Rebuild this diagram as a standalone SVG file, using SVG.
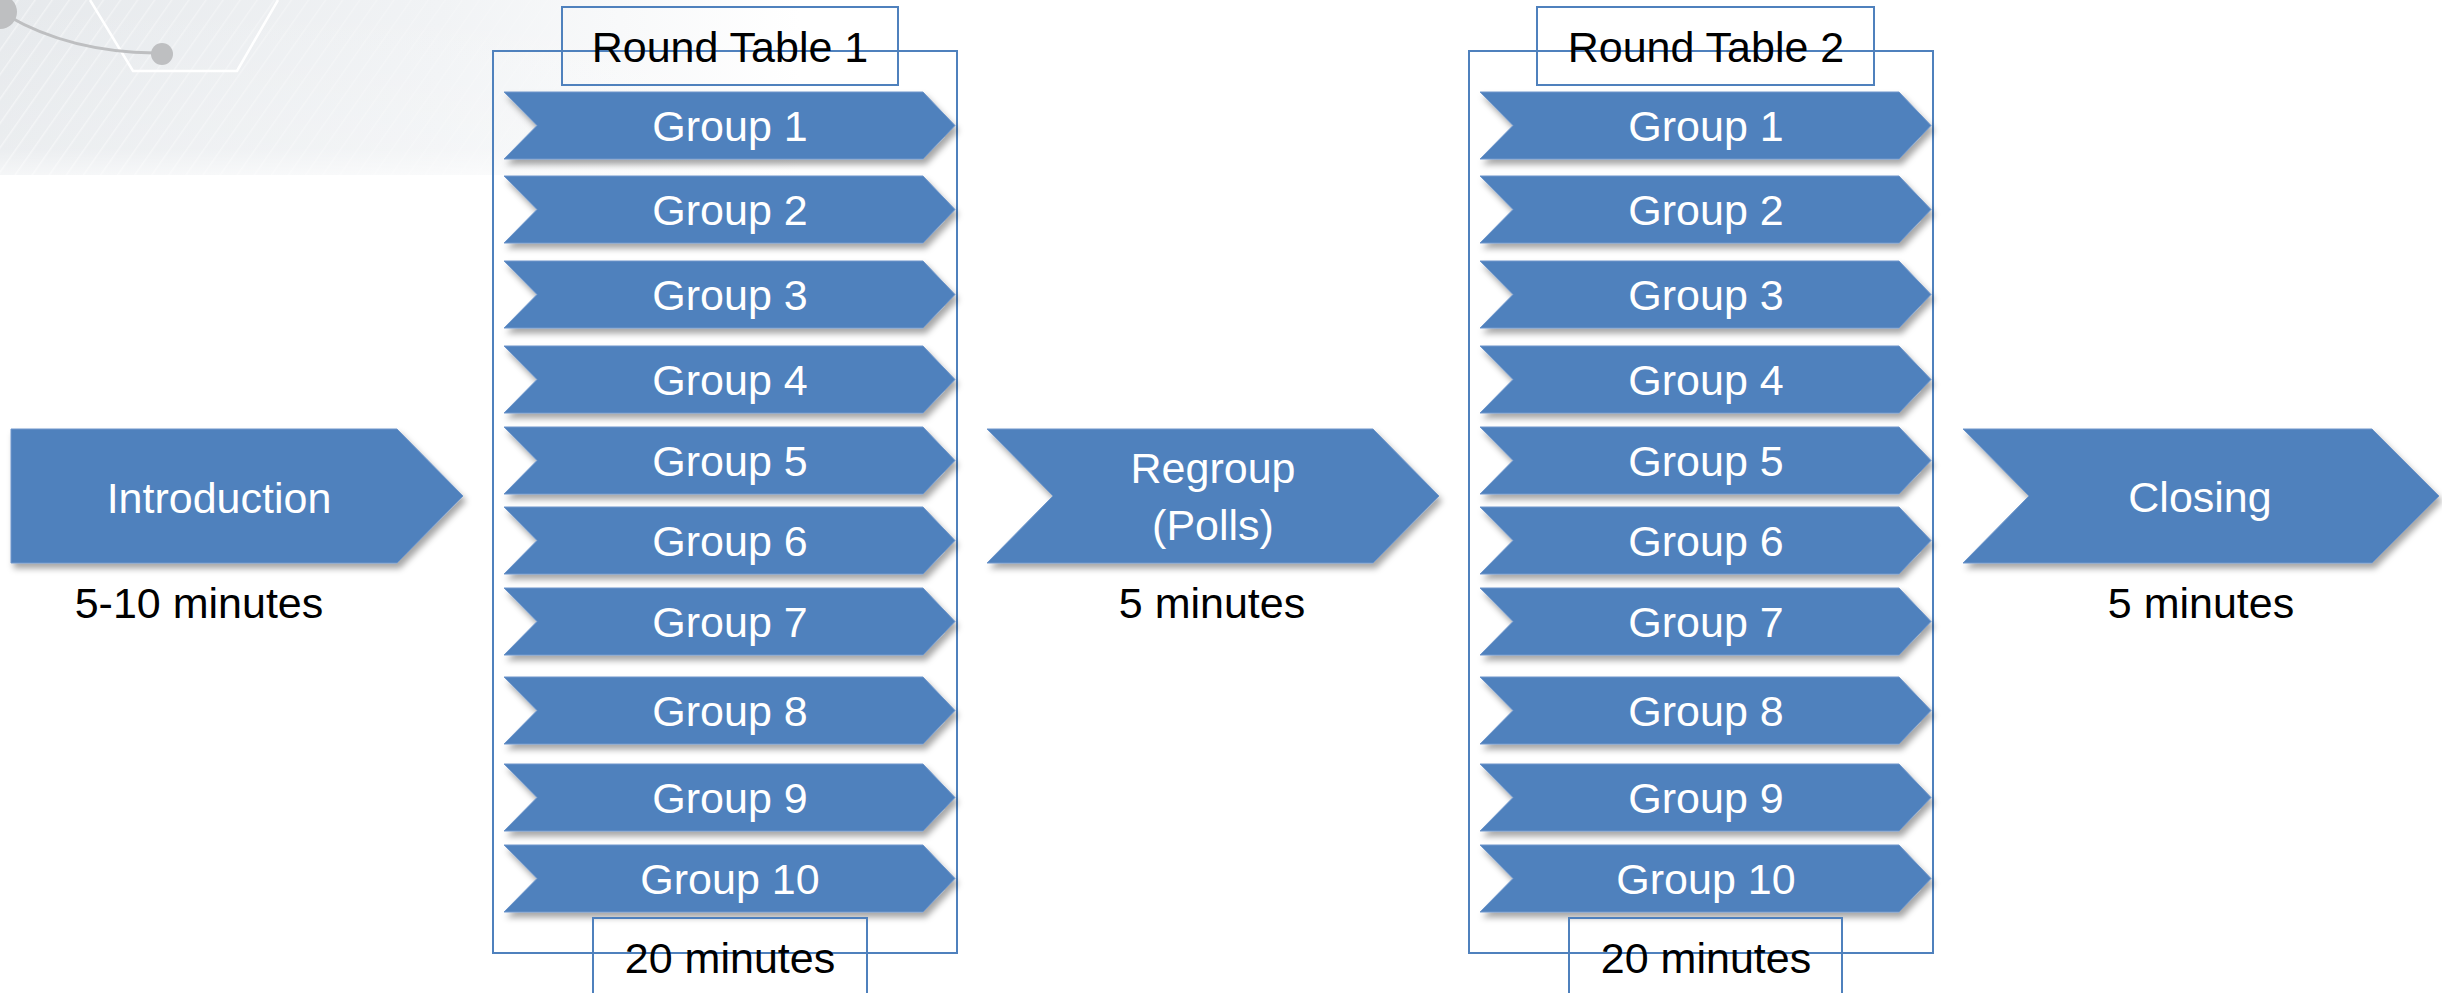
<svg xmlns="http://www.w3.org/2000/svg" width="2442" height="993" viewBox="0 0 2442 993">
  <defs>
    <style>
      .chev { fill: #4F81BD; stroke: #6E96CB; stroke-width: 1; filter: url(#sh); }
      .wt { fill: #FFFFFF; font-family: "Liberation Sans", Arial, sans-serif; font-size: 43px; text-anchor: middle; }
      .bt { fill: #000000; font-family: "Liberation Sans", Arial, sans-serif; font-size: 43px; text-anchor: middle; }
      .frame { fill: none; stroke: #4F81BD; stroke-width: 2; }
    </style>
    <filter id="sh" x="-10%" y="-20%" width="120%" height="150%">
      <feDropShadow dx="3" dy="5" stdDeviation="3" flood-color="#000000" flood-opacity="0.35"/>
    </filter>
    <linearGradient id="bgfade" x1="0" y1="0" x2="1" y2="0">
      <stop offset="0" stop-color="#E6E9EC"/>
      <stop offset="0.55" stop-color="#F1F3F5"/>
      <stop offset="1" stop-color="#FFFFFF"/>
    </linearGradient>
    <linearGradient id="bgfadeV" x1="0" y1="0" x2="0" y2="1">
      <stop offset="0" stop-color="#FFFFFF" stop-opacity="0"/>
      <stop offset="0.85" stop-color="#FFFFFF" stop-opacity="0.2"/>
      <stop offset="1" stop-color="#FFFFFF" stop-opacity="0.6"/>
    </linearGradient>
    <pattern id="stripes" width="14" height="14" patternUnits="userSpaceOnUse" patternTransform="rotate(35)">
      <line x1="0" y1="0" x2="0" y2="14" stroke="#FFFFFF" stroke-width="3" stroke-opacity="0.45"/>
    </pattern>
    <linearGradient id="stripefade" x1="0" y1="0" x2="1" y2="0">
      <stop offset="0" stop-color="#FFFFFF" stop-opacity="1"/>
      <stop offset="1" stop-color="#FFFFFF" stop-opacity="0"/>
    </linearGradient>
    <mask id="smask">
      <rect x="0" y="0" width="800" height="175" fill="url(#stripefade)"/>
    </mask>
  </defs>

  <rect x="0" y="0" width="2442" height="993" fill="#FFFFFF"/>

  <g id="background">
    <rect x="0" y="0" width="800" height="175" fill="url(#bgfade)"/>
    <rect x="0" y="0" width="800" height="175" fill="url(#stripes)" mask="url(#smask)"/>
    <rect x="0" y="0" width="800" height="175" fill="url(#bgfadeV)"/>
    <polyline points="90,0 133,71 237,71 278,0" fill="none" stroke="#FFFFFF" stroke-width="2.5"/>
    <path d="M 8 16 Q 70 52 155 53" fill="none" stroke="#BEBFC1" stroke-width="3"/>
    <circle cx="0" cy="12" r="17" fill="#BEBFC1"/>
    <circle cx="162" cy="54" r="11" fill="#BEBFC1"/>
  </g>

  <g id="connectors"></g>

  <g id="introduction">
    <polygon class="chev" points="11,429 397,429 463,496 397,563 11,563"/>
    <text class="wt" x="219" y="513">Introduction</text>
    <text class="bt" x="199" y="618">5-10 minutes</text>
  </g>

  <g id="round-table-1">
    <rect class="frame" x="493" y="51" width="464" height="902"/>
    <g id="rt1-groups">
      <g id="rt1-g1"><polygon class="chev" points="504,92 923,92 955,125.5 923,159 504,159 537,125.5"/><text class="wt" x="730" y="141">Group 1</text></g>
      <g id="rt1-g2"><polygon class="chev" points="504,176 923,176 955,209.5 923,243 504,243 537,209.5"/><text class="wt" x="730" y="225">Group 2</text></g>
      <g id="rt1-g3"><polygon class="chev" points="504,261 923,261 955,294.5 923,328 504,328 537,294.5"/><text class="wt" x="730" y="310">Group 3</text></g>
      <g id="rt1-g4"><polygon class="chev" points="504,346 923,346 955,379.5 923,413 504,413 537,379.5"/><text class="wt" x="730" y="395">Group 4</text></g>
      <g id="rt1-g5"><polygon class="chev" points="504,427 923,427 955,460.5 923,494 504,494 537,460.5"/><text class="wt" x="730" y="476">Group 5</text></g>
      <g id="rt1-g6"><polygon class="chev" points="504,507 923,507 955,540.5 923,574 504,574 537,540.5"/><text class="wt" x="730" y="556">Group 6</text></g>
      <g id="rt1-g7"><polygon class="chev" points="504,588 923,588 955,621.5 923,655 504,655 537,621.5"/><text class="wt" x="730" y="637">Group 7</text></g>
      <g id="rt1-g8"><polygon class="chev" points="504,677 923,677 955,710.5 923,744 504,744 537,710.5"/><text class="wt" x="730" y="726">Group 8</text></g>
      <g id="rt1-g9"><polygon class="chev" points="504,764 923,764 955,797.5 923,831 504,831 537,797.5"/><text class="wt" x="730" y="813">Group 9</text></g>
      <g id="rt1-g10"><polygon class="chev" points="504,845 923,845 955,878.5 923,912 504,912 537,878.5"/><text class="wt" x="730" y="894">Group 10</text></g>
    </g>
    <g id="rt1-title">
      <rect class="frame" x="562" y="7" width="336" height="78"/>
      <text class="bt" x="730" y="62">Round Table 1</text>
    </g>
    <g id="rt1-duration">
      <rect class="frame" x="593" y="918" width="274" height="100"/>
      <text class="bt" x="730" y="973">20 minutes</text>
    </g>
  </g>

  <g id="regroup">
    <polygon class="chev" points="987,429 1373,429 1439,496 1373,563 987,563 1053,496"/>
    <text class="wt" x="1213" y="483">Regroup</text>
    <text class="wt" x="1213" y="540">(Polls)</text>
    <text class="bt" x="1212" y="618">5 minutes</text>
  </g>

  <g id="round-table-2">
    <rect class="frame" x="1469" y="51" width="464" height="902"/>
    <g id="rt2-groups">
      <g id="rt2-g1"><polygon class="chev" points="1480,92 1899,92 1931,125.5 1899,159 1480,159 1513,125.5"/><text class="wt" x="1706" y="141">Group 1</text></g>
      <g id="rt2-g2"><polygon class="chev" points="1480,176 1899,176 1931,209.5 1899,243 1480,243 1513,209.5"/><text class="wt" x="1706" y="225">Group 2</text></g>
      <g id="rt2-g3"><polygon class="chev" points="1480,261 1899,261 1931,294.5 1899,328 1480,328 1513,294.5"/><text class="wt" x="1706" y="310">Group 3</text></g>
      <g id="rt2-g4"><polygon class="chev" points="1480,346 1899,346 1931,379.5 1899,413 1480,413 1513,379.5"/><text class="wt" x="1706" y="395">Group 4</text></g>
      <g id="rt2-g5"><polygon class="chev" points="1480,427 1899,427 1931,460.5 1899,494 1480,494 1513,460.5"/><text class="wt" x="1706" y="476">Group 5</text></g>
      <g id="rt2-g6"><polygon class="chev" points="1480,507 1899,507 1931,540.5 1899,574 1480,574 1513,540.5"/><text class="wt" x="1706" y="556">Group 6</text></g>
      <g id="rt2-g7"><polygon class="chev" points="1480,588 1899,588 1931,621.5 1899,655 1480,655 1513,621.5"/><text class="wt" x="1706" y="637">Group 7</text></g>
      <g id="rt2-g8"><polygon class="chev" points="1480,677 1899,677 1931,710.5 1899,744 1480,744 1513,710.5"/><text class="wt" x="1706" y="726">Group 8</text></g>
      <g id="rt2-g9"><polygon class="chev" points="1480,764 1899,764 1931,797.5 1899,831 1480,831 1513,797.5"/><text class="wt" x="1706" y="813">Group 9</text></g>
      <g id="rt2-g10"><polygon class="chev" points="1480,845 1899,845 1931,878.5 1899,912 1480,912 1513,878.5"/><text class="wt" x="1706" y="894">Group 10</text></g>
    </g>
    <g id="rt2-title">
      <rect class="frame" x="1537" y="7" width="337" height="78"/>
      <text class="bt" x="1706" y="62">Round Table 2</text>
    </g>
    <g id="rt2-duration">
      <rect class="frame" x="1569" y="918" width="273" height="100"/>
      <text class="bt" x="1706" y="973">20 minutes</text>
    </g>
  </g>

  <g id="closing">
    <polygon class="chev" points="1963,429 2372,429 2439,496 2372,563 1963,563 2029,496"/>
    <text class="wt" x="2200" y="512">Closing</text>
    <text class="bt" x="2201" y="618">5 minutes</text>
  </g>
</svg>
